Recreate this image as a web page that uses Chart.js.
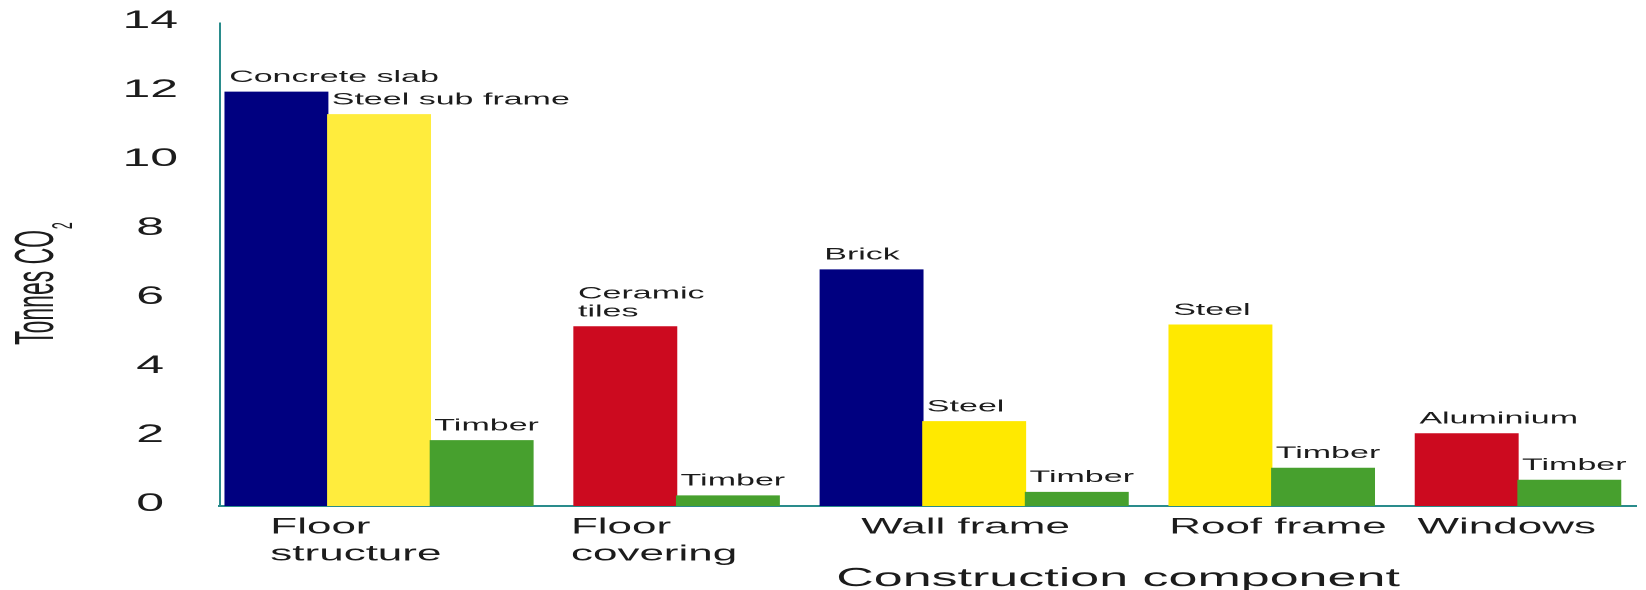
<!DOCTYPE html>
<html>
<head>
<meta charset="utf-8">
<script src="https://cdn.jsdelivr.net/npm/chart.js@4.4.1/dist/chart.umd.min.js"></script>
<style>
  html, body { margin: 0; padding: 0; background: #fff; overflow: hidden; }
  /* the original picture is stretched sideways, so draw at half width and stretch */
  #wrap { width: 823px; height: 590px; transform: scaleX(2); transform-origin: 0 0; }
</style>
</head>
<body>
<div id="wrap"><canvas id="chart"></canvas></div>
<script>
// Data
const components = [['Floor', 'structure'], ['Floor', 'covering'], ['Wall frame'], ['Roof frame'], ['Windows']];
const materials = [
    ['Concrete slab', 'Steel sub frame', 'Timber'],
    [['Ceramic', 'tiles'], 'Timber'],
    ['Brick', 'Steel', 'Timber'],
    ['Steel', 'Timber'],
    ['Aluminium', 'Timber']
];
const tonnes = [
    [12.0, 11.35, 1.9],
    [5.2, 0.3],
    [6.85, 2.45, 0.4],
    [5.25, 1.1],
    [2.1, 0.75]
];
const yTicks = [0, 2, 4, 6, 8, 10, 12, 14];

// Styles
const FONT = '"Liberation Sans", Arial, sans-serif';
const TEXT = '#1c1c1c';
const TEAL = '#2a8c8c';
const colourOf = {
    'Concrete slab': '#000080',
    'Brick': '#000080',
    'Steel sub frame': '#ffec3d',
    'Steel': '#ffe900',
    'Ceramic tiles': '#cc0a1f',
    'Aluminium': '#cc0a1f',
    'Timber': '#47a02e'
};
const GAP = 0.4;                              // space between groups, in bar widths
const labelIndent = [0.44, -0.03, 0.4, 0, 0.02]; // x label start, from group's left edge

// Lay the bars out side by side inside each group
const bars = [];
const groupLeft = [];
let pos = 0;
tonnes.forEach((vals, g) => {
    groupLeft.push(pos - 0.5);
    vals.forEach((v, i) => {
        bars.push({ x: pos, y: v, label: materials[g][i] });
        pos += 1;
    });
    pos += GAP;
});
const lastCentre = pos - GAP - 1;
const xTickValues = groupLeft.map((l, g) => l + labelIndent[g]);

const nameOf = label => [].concat(label).join(' ');

// Text above every bar
const barLabels = {
    id: 'barLabels',
    afterDatasetsDraw(chart) {
        const ctx = chart.ctx;
        const meta = chart.getDatasetMeta(0);
        ctx.save();
        ctx.font = '17px ' + FONT;
        ctx.fillStyle = TEXT;
        ctx.textAlign = 'left';
        ctx.textBaseline = 'alphabetic';
        meta.data.forEach((bar, i) => {
            const lines = [].concat(bars[i].label);
            const left = bar.x - bar.width / 2 + 2;
            const base = bar.y - 10 - (lines.length - 1) * 18;
            lines.forEach((line, k) => ctx.fillText(line, left, base + k * 18));
        });
        ctx.restore();
    }
};

// Axis titles (y one has a subscript)
const axisTitles = {
    id: 'axisTitles',
    afterDraw(chart) {
        const ctx = chart.ctx;
        ctx.save();
        ctx.fillStyle = TEXT;
        ctx.textBaseline = 'alphabetic';

        ctx.font = '26px ' + FONT;
        ctx.textAlign = 'center';
        ctx.fillText('Construction component', 559, 586);

        ctx.translate(26.5, 284);
        ctx.rotate(-Math.PI / 2);
        ctx.scale(0.82, 1);
        ctx.textAlign = 'left';
        ctx.font = '28px ' + FONT;
        const w1 = ctx.measureText('Tonnes CO').width;
        ctx.font = '15px ' + FONT;
        const w2 = ctx.measureText('2').width;
        const start = -(w1 + w2) / 2;
        ctx.font = '28px ' + FONT;
        ctx.fillText('Tonnes CO', start, 0);
        ctx.font = '15px ' + FONT;
        ctx.fillText('2', start + w1 + 1, 9.5);
        ctx.restore();
    }
};

const ctx = document.getElementById('chart').getContext('2d');
new Chart(ctx, {
    type: 'bar',
    data: {
        datasets: [{
            data: bars.map(b => ({ x: b.x, y: b.y })),
            backgroundColor: bars.map(b => colourOf[nameOf(b.label)]),
            borderWidth: 0,
            barPercentage: 1,
            categoryPercentage: 1
        }]
    },
    options: {
        responsive: true,
        maintainAspectRatio: false,
        animation: false,
        devicePixelRatio: 2,
        layout: { padding: { top: 23, right: 5, left: 0, bottom: 0 } },
        plugins: { legend: { display: false }, tooltip: { enabled: false } },
        scales: {
            x: {
                type: 'linear',
                offset: false,
                min: -0.55,
                max: lastCentre + 0.65,
                grid: { display: false, drawTicks: false },
                border: { display: true, color: TEAL, width: 2 },
                afterBuildTicks: s => { s.ticks = xTickValues.map(v => ({ value: v })); },
                afterFit: s => { s.height = 84; },
                ticks: {
                    align: 'start',
                    autoSkip: false,
                    maxRotation: 0,
                    padding: 8,
                    color: TEXT,
                    font: { family: FONT, size: 22, lineHeight: 1.23 },
                    callback: (v, i) => components[i]
                }
            },
            y: {
                min: 0,
                max: 14,
                grid: { display: false, drawTicks: false },
                border: { display: true, color: TEAL, width: 1 },
                afterBuildTicks: s => { s.ticks = yTicks.map(v => ({ value: v })); },
                afterFit: s => {
                    s.width = 110;
                    // tick padding is only meant sideways here
                    s.paddingTop = 0;
                    s.paddingBottom = 0;
                },
                ticks: {
                    crossAlign: 'center',
                    padding: 21,
                    labelOffset: -2,
                    color: TEXT,
                    font: { family: FONT, size: 25 }
                }
            }
        }
    },
    plugins: [barLabels, axisTitles]
});
</script>
</body>
</html>
